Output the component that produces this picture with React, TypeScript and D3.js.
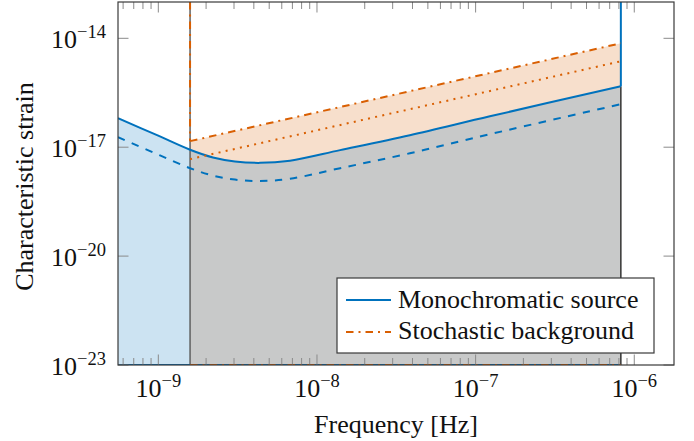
import React from "react";
import * as d3 from "d3";

// ---- data ----
const cutoffLow = 1.585e-9; // ~ 1/(20 yr)
const cutoffHigh = 8.23e-7; // ~ 1/(2 weeks)

const monoFreq = [5.57e-10, 9.82e-10, 1.585e-9, 2.21e-9, 3.04e-9, 4.37e-9, 6.76e-9, 1.4e-8, 3.85e-8, 1.23e-7, 8.23e-7];
const monoStrain = [6.3e-17, 2.14e-17, 8.5e-18, 5.21e-18, 4.05e-18, 3.7e-18, 4.26e-18, 8.3e-18, 2.14e-17, 7.1e-17, 4.8e-16];
const monoDashedStrain = [1.89e-17, 6.43e-18, 2.64e-18, 1.65e-18, 1.28e-18, 1.17e-18, 1.35e-18, 2.64e-18, 6.8e-18, 2.28e-17, 1.53e-16];

const stochFreq = [1.585e-9, 8.23e-7];
const stochStrain = [1.47e-17, 7.3e-15];
const stochDottedStrain = [4.7e-18, 2.33e-15];

const xDomain = [5.57e-10, 1.78e-6];
const yDomain = [1e-23, 1e-13];
const xTickExps = [-9, -8, -7, -6];
const yTickExps = [-23, -20, -17, -14];

const BLUE = "#0072BD";
const ORANGE = "#D95F02";

const legendItems = [
  { label: "Monochromatic source", color: BLUE, dash: "none" },
  { label: "Stochastic background", color: ORANGE, dash: "7.5,5,2,5" },
];

const FONT = "'Liberation Serif', 'Times New Roman', serif";

export default function App() {
  const W = 694, H = 441;
  const left = 118, right = 674, top = 2, bottom = 365;
  const x = d3.scaleLog().domain(xDomain).range([left, right]);
  const y = d3.scaleLog().domain(yDomain).range([bottom, top]);

  const mono = monoFreq.map((f, i) => ({ f, v: monoStrain[i], d: monoDashedStrain[i] }));
  const stochInterp = (f: number, arr: number[]) => {
    const t = (Math.log10(f) - Math.log10(stochFreq[0])) / (Math.log10(stochFreq[1]) - Math.log10(stochFreq[0]));
    return Math.pow(10, Math.log10(arr[0]) + t * (Math.log10(arr[1]) - Math.log10(arr[0])));
  };

  const curve = d3.curveCatmullRom.alpha(0.5);
  const lineSolid = d3.line<any>().x((p) => x(p.f)).y((p) => y(p.v)).curve(curve);
  const lineDashed = d3.line<any>().x((p) => x(p.f)).y((p) => y(p.d)).curve(curve);

  const areaUnder = d3.area<any>().x((p) => x(p.f)).y0(y(yDomain[0])).y1((p) => y(p.v)).curve(curve);
  const stochTop = (f: number) => y(stochInterp(f, stochStrain));

  const stoch = stochFreq.map((f, i) => ({ f, v: stochStrain[i] }));
  const stochDot = stochFreq.map((f, i) => ({ f, v: stochDottedStrain[i] }));
  const straight = d3.line<any>().x((p) => x(p.f)).y((p) => y(p.v));

  const orangeBand =
    `M${x(cutoffLow)},${stochTop(cutoffLow)}L${x(cutoffHigh)},${stochTop(cutoffHigh)}` +
    `L${x(cutoffHigh)},${y(yDomain[0])}L${x(cutoffLow)},${y(yDomain[0])}Z`;

  const minorX: number[] = [];
  for (let e = -10; e <= -6; e++) {
    for (let m = 2; m <= 9; m++) {
      const v = m * Math.pow(10, e);
      if (v >= xDomain[0] && v <= xDomain[1]) minorX.push(v);
    }
  }
  const majLen = 10.5, minLen = 7;
  const tickColor = "#8a8a8a";
  const yBottom = y(yDomain[0]);
  const xL = x(cutoffLow), xH = x(cutoffHigh);

  return (
    <svg width={W} height={H} style={{ position: "absolute", left: 0, top: 0, background: "#fff" }} fontFamily={FONT}>
      <defs>
        <clipPath id="plotclip">
          <rect x={left} y={top} width={right - left} height={bottom - top} />
        </clipPath>
        <clipPath id="leftclip">
          <rect x={left} y={top} width={xL - left} height={bottom - top} />
        </clipPath>
        <clipPath id="midclip">
          <rect x={xL} y={top} width={xH - xL} height={bottom - top} />
        </clipPath>
      </defs>
      <g clipPath="url(#plotclip)">
        <path d={orangeBand} fill="#f7dfcc" />
        <g clipPath="url(#leftclip)">
          <path d={areaUnder(mono) || ""} fill="#cce3f2" />
        </g>
        <g clipPath="url(#midclip)">
          <path d={areaUnder(mono) || ""} fill="#c8c9c9" />
        </g>
        <line x1={xL} x2={xL} y1={top} y2={bottom} stroke="#5f5f5f" strokeWidth={1.5} />
        <line x1={xL} x2={xL} y1={top} y2={y(stochStrain[0])} stroke={ORANGE} strokeWidth={2} strokeDasharray="7.5,5,2,5" />
        <line x1={xH} x2={xH} y1={y(monoStrain[monoStrain.length - 1])} y2={bottom} stroke="#333" strokeWidth={1.5} />
        <line x1={xH} x2={xH} y1={top} y2={y(monoStrain[monoStrain.length - 1])} stroke={BLUE} strokeWidth={2} />
        <line x1={left} x2={xH} y1={yBottom} y2={yBottom} stroke={BLUE} strokeWidth={2} />
        <line x1={xL} x2={xH} y1={yBottom} y2={yBottom} stroke={ORANGE} strokeWidth={2} strokeDasharray="7.5,5,2,5" />
        <path d={lineDashed(mono) || ""} fill="none" stroke={BLUE} strokeWidth={2} strokeDasharray="7.5,7.5" />
        <path d={lineSolid(mono) || ""} fill="none" stroke={BLUE} strokeWidth={2} />
        <path d={straight(stochDot) || ""} fill="none" stroke={ORANGE} strokeWidth={2} strokeDasharray="2,5.3" />
        <path d={straight(stoch) || ""} fill="none" stroke={ORANGE} strokeWidth={2} strokeDasharray="7.5,5,2,5" />
      </g>

      <g stroke={tickColor} strokeWidth={1}>
        {minorX.map((v, i) => (
          <g key={"mx" + i}>
            <line x1={x(v)} x2={x(v)} y1={bottom} y2={bottom - minLen} />
            <line x1={x(v)} x2={x(v)} y1={top} y2={top + minLen} />
          </g>
        ))}
        {xTickExps.map((e) => (
          <g key={"Mx" + e}>
            <line x1={x(Math.pow(10, e))} x2={x(Math.pow(10, e))} y1={bottom} y2={bottom - majLen} />
            <line x1={x(Math.pow(10, e))} x2={x(Math.pow(10, e))} y1={top} y2={top + majLen} />
          </g>
        ))}
        {yTickExps.map((e) => (
          <g key={"My" + e}>
            <line x1={left} x2={left + majLen} y1={y(Math.pow(10, e))} y2={y(Math.pow(10, e))} />
            <line x1={right} x2={right - majLen} y1={y(Math.pow(10, e))} y2={y(Math.pow(10, e))} />
          </g>
        ))}
      </g>

      <rect x={left} y={top} width={right - left} height={bottom - top} fill="none" stroke="#3a3a3a" strokeWidth={1.2} />

      {xTickExps.map((e) => (
        <text key={"lx" + e} x={x(Math.pow(10, e))} y={397} textAnchor="middle" fontSize={26} fill="#111">
          10<tspan fontSize={18.5} dy={-10}>{"\u2212" + Math.abs(e)}</tspan>
        </text>
      ))}
      {yTickExps.map((e) => (
        <text key={"ly" + e} x={106} y={y(Math.pow(10, e)) + 9.5} textAnchor="end" fontSize={26} fill="#111">
          10<tspan fontSize={18.5} dy={-10}>{"\u2212" + Math.abs(e)}</tspan>
        </text>
      ))}

      <text x={(left + right) / 2} y={433} textAnchor="middle" fontSize={26} fill="#111">
        Frequency [Hz]
      </text>
      <text transform={`translate(33, ${(top + bottom) / 2 + 3}) rotate(-90)`} textAnchor="middle" fontSize={26} fill="#111">
        Characteristic strain
      </text>

      <g>
        <rect x={337} y={278} width={317} height={75} fill="#fff" stroke="#3a3a3a" strokeWidth={1.2} />
        {legendItems.map((it, i) => (
          <g key={it.label}>
            <line x1={346} x2={391} y1={300 + i * 32} y2={300 + i * 32} stroke={it.color} strokeWidth={2} strokeDasharray={it.dash} />
            <text x={398} y={307.5 + i * 31} fontSize={26} fill="#111">
              {it.label}
            </text>
          </g>
        ))}
      </g>
    </svg>
  );
}
